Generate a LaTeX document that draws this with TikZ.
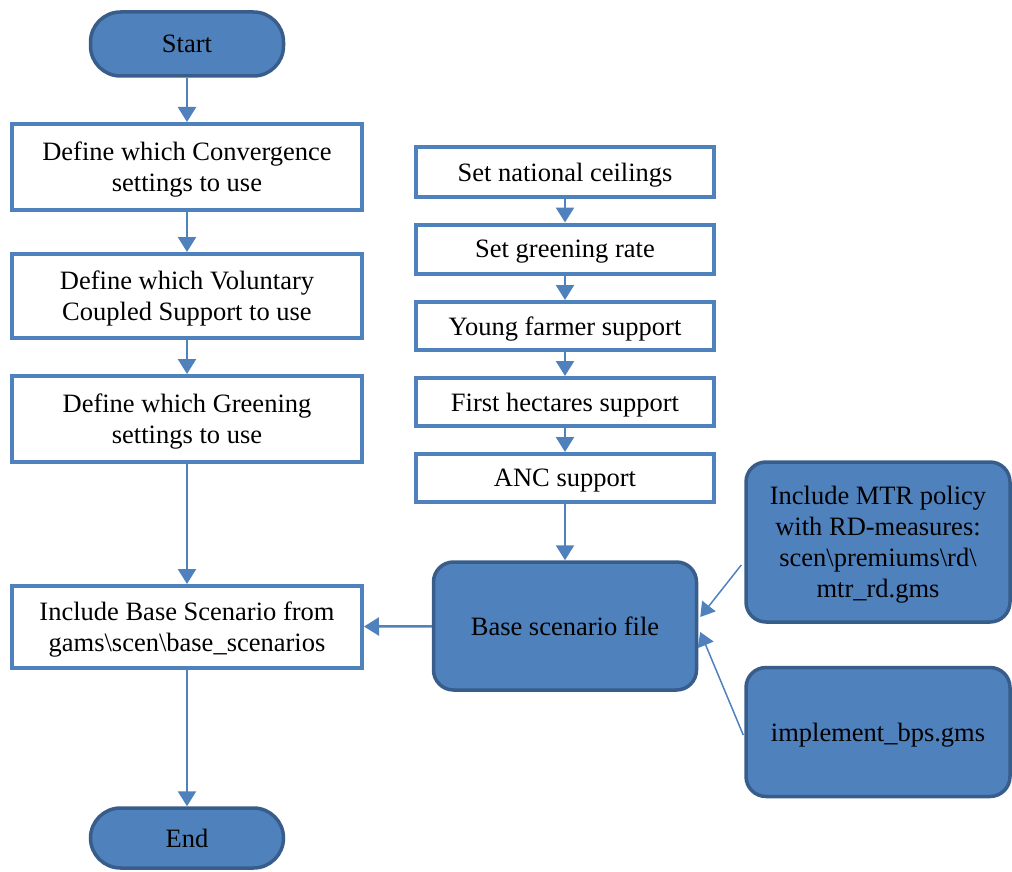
\documentclass[tikz,border=0pt]{standalone}
\usepackage{fontspec}
\setmainfont{Liberation Serif}
\usetikzlibrary{arrows.meta,calc}
\definecolor{flowline}{RGB}{79,129,189}
\definecolor{boxfill}{RGB}{79,129,189}
\definecolor{boxedge}{RGB}{56,93,138}
\begin{document}
\begin{tikzpicture}[x=1pt,y=-1pt,
  every node/.style={font=\fontsize{26.5}{31}\selectfont, align=center, inner sep=0pt, text depth=0pt},
  plainbox/.style={draw=flowline, line width=4pt, fill=white},
  bluebox/.style={draw=boxedge, line width=3.5pt, fill=boxfill, rounded corners=20pt},
  pill/.style={draw=boxedge, line width=3.5pt, fill=boxfill, rounded corners=30pt},
  flow/.style={draw=flowline, line width=2.5pt, -{Triangle[width=18pt,length=15pt]}},
  link/.style={draw=flowline, line width=1.5pt, -{Triangle[width=17pt,length=14pt]}}]
\useasboundingbox (0,0) rectangle (1012,872);

% left column
\node[pill, minimum width=193pt, minimum height=64pt] (start) at (187,44) {Start};
\node[plainbox, minimum width=350pt, minimum height=86pt] (conv) at (187,167) {Define which Convergence\\settings to use};
\node[plainbox, minimum width=350pt, minimum height=84pt] (vcs) at (187,296) {Define which Voluntary\\Coupled Support to use};
\node[plainbox, minimum width=350pt, minimum height=86pt] (green) at (187,419) {Define which Greening\\settings to use};
\node[plainbox, minimum width=350pt, minimum height=82pt] (base) at (187,627) {Include Base Scenario from\\gams\textbackslash scen\textbackslash base\_scenarios};
\node[pill, minimum width=193pt, minimum height=60pt] (end) at (187,838) {End};

% right column
\node[plainbox, minimum width=298pt, minimum height=49pt] (ceil) at (565,172) {Set national ceilings};
\node[plainbox, minimum width=298pt, minimum height=49pt] (grate) at (565,249) {Set greening rate};
\node[plainbox, minimum width=298pt, minimum height=48pt] (young) at (565,326) {Young farmer support};
\node[plainbox, minimum width=298pt, minimum height=48pt] (first) at (565,402) {First hectares support};
\node[plainbox, minimum width=298pt, minimum height=48pt] (anc) at (565,478) {ANC support};
\node[bluebox, minimum width=263pt, minimum height=128pt] (bsf) at (565,626) {Base scenario file};

% included files
\node[bluebox, minimum width=264pt, minimum height=160pt] (mtr) at (878,542) {Include MTR policy\\with RD-measures:\\scen\textbackslash premiums\textbackslash rd\textbackslash\\mtr\_rd.gms};
\node[bluebox, minimum width=264pt, minimum height=129pt] (bps) at (878,732) {implement\_bps.gms};

% connectors
\draw[flow] (start) -- (conv);
\draw[flow] (conv) -- (vcs);
\draw[flow] (vcs) -- (green);
\draw[flow] (green) -- (base);
\draw[flow] (base) -- (end);
\draw[flow] (ceil) -- (grate);
\draw[flow] (grate) -- (young);
\draw[flow] (young) -- (first);
\draw[flow] (first) -- (anc);
\draw[flow] (anc) -- (bsf);
\draw[flow] (bsf) -- (base);
\draw[link] ($(mtr.west)+(-3,23)$) -- ($(bsf.east)+(2,-9)$);
\draw[link] ($(bps.west)+(-1,3)$) -- ($(bsf.east)+(2,6)$);
\end{tikzpicture}
\end{document}
